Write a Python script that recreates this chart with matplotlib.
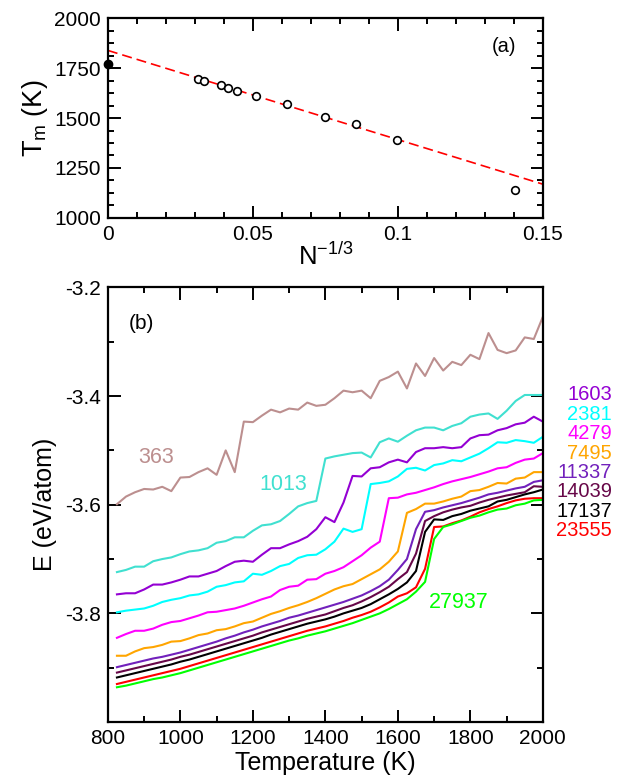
import numpy as np
import matplotlib
matplotlib.use("Agg")
import matplotlib.pyplot as plt
from matplotlib.ticker import MultipleLocator, FormatStrFormatter

plt.rcParams['font.family'] = ['Liberation Sans', 'DejaVu Sans']
plt.rcParams['mathtext.fontset'] = 'custom'
plt.rcParams['mathtext.rm'] = 'Liberation Sans'
plt.rcParams['mathtext.it'] = 'Liberation Sans'
plt.rcParams['axes.unicode_minus'] = False

# ---------------- panel (a) data ----------------
n_inv_third = [0.0312, 0.0332, 0.0389, 0.0415, 0.0446, 0.0512, 0.0617, 0.0750, 0.0855, 0.0996, 0.1403]
tm_values = [1693, 1686, 1663, 1650, 1633, 1610, 1572, 1507, 1468, 1388, 1139]
bulk_x = [0.0]
bulk_tm = [1769]
fit_x = [0.0, 0.15]
fit_tm = [1838, 1169]

# ---------------- panel (b) data ----------------
temps = list(range(825, 2001, 25))

e_363 = [-3.599, -3.585, -3.577, -3.571, -3.572, -3.567, -3.575, -3.550, -3.549, -3.540,
         -3.533, -3.545, -3.500, -3.540, -3.447, -3.448, -3.436, -3.425, -3.430, -3.423,
         -3.425, -3.412, -3.418, -3.416, -3.404, -3.390, -3.393, -3.390, -3.404, -3.372,
         -3.365, -3.355, -3.386, -3.340, -3.363, -3.330, -3.353, -3.337, -3.343, -3.324,
         -3.332, -3.284, -3.315, -3.321, -3.316, -3.292, -3.295, -3.254]
e_1013 = [-3.724, -3.720, -3.714, -3.714, -3.704, -3.700, -3.697, -3.691, -3.686, -3.684,
          -3.680, -3.670, -3.667, -3.660, -3.660, -3.648, -3.638, -3.636, -3.630, -3.617,
          -3.603, -3.597, -3.593, -3.515, -3.511, -3.508, -3.505, -3.504, -3.513, -3.485,
          -3.478, -3.484, -3.473, -3.463, -3.458, -3.458, -3.463, -3.455, -3.450, -3.438,
          -3.434, -3.432, -3.442, -3.427, -3.409, -3.398, -3.398, -3.398]
e_1603 = [-3.765, -3.763, -3.763, -3.756, -3.747, -3.747, -3.743, -3.738, -3.732, -3.732,
          -3.727, -3.722, -3.713, -3.705, -3.703, -3.705, -3.692, -3.680, -3.680, -3.673,
          -3.667, -3.659, -3.645, -3.623, -3.632, -3.596, -3.547, -3.548, -3.533, -3.531,
          -3.522, -3.517, -3.522, -3.503, -3.496, -3.496, -3.494, -3.496, -3.494, -3.478,
          -3.472, -3.471, -3.463, -3.459, -3.452, -3.449, -3.438, -3.447]
e_2381 = [-3.798, -3.795, -3.793, -3.791, -3.786, -3.779, -3.775, -3.772, -3.767, -3.765,
          -3.760, -3.751, -3.748, -3.743, -3.741, -3.727, -3.729, -3.722, -3.713, -3.709,
          -3.698, -3.693, -3.692, -3.682, -3.668, -3.644, -3.650, -3.645, -3.562, -3.560,
          -3.557, -3.548, -3.534, -3.532, -3.537, -3.527, -3.524, -3.518, -3.520, -3.513,
          -3.506, -3.496, -3.485, -3.486, -3.481, -3.483, -3.486, -3.475]
e_4279 = [-3.845, -3.838, -3.832, -3.832, -3.828, -3.821, -3.816, -3.814, -3.809, -3.804,
          -3.798, -3.797, -3.794, -3.791, -3.786, -3.780, -3.774, -3.769, -3.757, -3.751,
          -3.749, -3.738, -3.737, -3.727, -3.722, -3.715, -3.704, -3.693, -3.679, -3.668,
          -3.588, -3.587, -3.581, -3.578, -3.573, -3.568, -3.562, -3.557, -3.553, -3.549,
          -3.544, -3.539, -3.533, -3.531, -3.523, -3.517, -3.515, -3.505]
e_7495 = [-3.878, -3.878, -3.870, -3.864, -3.862, -3.858, -3.852, -3.851, -3.846, -3.840,
          -3.837, -3.831, -3.829, -3.824, -3.818, -3.815, -3.808, -3.801, -3.796, -3.790,
          -3.785, -3.779, -3.772, -3.764, -3.756, -3.750, -3.746, -3.737, -3.728, -3.719,
          -3.705, -3.686, -3.615, -3.608, -3.598, -3.598, -3.594, -3.589, -3.585, -3.575,
          -3.573, -3.567, -3.560, -3.561, -3.552, -3.550, -3.540, -3.540]
e_11337 = [-3.899, -3.895, -3.891, -3.887, -3.883, -3.880, -3.876, -3.872, -3.867, -3.862,
           -3.857, -3.852, -3.846, -3.841, -3.835, -3.830, -3.824, -3.819, -3.814, -3.808,
           -3.804, -3.799, -3.794, -3.789, -3.784, -3.779, -3.773, -3.767, -3.759, -3.750,
           -3.738, -3.720, -3.700, -3.645, -3.613, -3.610, -3.605, -3.601, -3.597, -3.592,
           -3.587, -3.581, -3.578, -3.574, -3.570, -3.567, -3.558, -3.555]
e_14039 = [-3.909, -3.905, -3.901, -3.897, -3.893, -3.889, -3.885, -3.880, -3.876, -3.871,
           -3.866, -3.861, -3.856, -3.851, -3.846, -3.841, -3.835, -3.830, -3.825, -3.820,
           -3.815, -3.810, -3.806, -3.802, -3.796, -3.790, -3.785, -3.778, -3.770, -3.761,
           -3.751, -3.737, -3.724, -3.690, -3.630, -3.621, -3.614, -3.609, -3.605, -3.602,
           -3.596, -3.591, -3.587, -3.583, -3.580, -3.577, -3.566, -3.567]
e_17137 = [-3.918, -3.914, -3.910, -3.906, -3.902, -3.898, -3.894, -3.889, -3.885, -3.880,
           -3.875, -3.870, -3.865, -3.860, -3.855, -3.850, -3.845, -3.839, -3.834, -3.829,
           -3.824, -3.819, -3.815, -3.811, -3.806, -3.800, -3.795, -3.790, -3.783, -3.774,
           -3.765, -3.755, -3.743, -3.722, -3.650, -3.627, -3.628, -3.621, -3.617, -3.611,
           -3.607, -3.603, -3.594, -3.591, -3.586, -3.581, -3.577, -3.572]
e_23555 = [-3.930, -3.926, -3.922, -3.918, -3.914, -3.910, -3.906, -3.902, -3.897, -3.892,
           -3.887, -3.882, -3.877, -3.872, -3.867, -3.862, -3.857, -3.852, -3.847, -3.842,
           -3.837, -3.832, -3.828, -3.824, -3.819, -3.814, -3.808, -3.803, -3.797, -3.789,
           -3.780, -3.769, -3.763, -3.752, -3.718, -3.641, -3.640, -3.634, -3.629, -3.622,
           -3.614, -3.608, -3.603, -3.597, -3.592, -3.589, -3.588, -3.588]
e_27937 = [-3.936, -3.933, -3.929, -3.925, -3.921, -3.918, -3.914, -3.910, -3.905, -3.900,
           -3.895, -3.890, -3.885, -3.880, -3.875, -3.870, -3.865, -3.860, -3.855, -3.850,
           -3.846, -3.841, -3.837, -3.833, -3.828, -3.823, -3.818, -3.812, -3.806, -3.800,
           -3.792, -3.783, -3.774, -3.760, -3.742, -3.663, -3.641, -3.636, -3.630, -3.624,
           -3.620, -3.614, -3.609, -3.607, -3.601, -3.598, -3.592, -3.591]

sizes = ['363', '1013', '1603', '2381', '4279', '7495', '11337', '14039', '17137', '23555', '27937']
series = [e_363, e_1013, e_1603, e_2381, e_4279, e_7495, e_11337, e_14039, e_17137, e_23555, e_27937]
colors = ['#BC8F8F', '#40E0D0', '#9400D3', '#00FFFF', '#FF00FF', '#FFA500',
          '#7221BC', '#670748', '#000000', '#FF0000', '#00FF00']

right_labels = ['1603', '2381', '4279', '7495', '11337', '14039', '17137', '23555']
right_label_y = [-3.398, -3.434, -3.469, -3.505, -3.541, -3.576, -3.612, -3.648]

fig = plt.figure(figsize=(6.2, 7.81), dpi=100)

def style(ax):
    for s in ax.spines.values():
        s.set_linewidth(1.6)
    ax.tick_params(which='both', direction='in', top=True, right=True, width=1.4, labelsize=15)
    ax.tick_params(which='major', length=9, pad=5)
    ax.tick_params(which='minor', length=4.5)

# ---- panel (a)
axa = fig.add_axes([0.174, 0.7209, 0.7016, 0.256])
axa.plot(fit_x, fit_tm, color='#FF0000', lw=1.2, dashes=(6, 3))
axa.plot(n_inv_third, tm_values, 'o', ms=5.5, mfc='white', mec='black', mew=1.2, zorder=3)
axa.plot(bulk_x, bulk_tm, 'o', ms=6, color='black', clip_on=False, zorder=4)
axa.set_xlim(0, 0.15)
axa.set_ylim(1000, 2000)
axa.xaxis.set_major_locator(MultipleLocator(0.05))
axa.xaxis.set_minor_locator(MultipleLocator(0.01))
axa.yaxis.set_major_locator(MultipleLocator(250))
axa.yaxis.set_minor_locator(MultipleLocator(62.5))
axa.xaxis.set_major_formatter(FormatStrFormatter('%g'))
style(axa)
axa.set_xlabel(r'N$^{-1/3}$', fontsize=18.5, labelpad=-1)
axa.set_ylabel(r'T$_{\rm m}$ (K)', fontsize=19.5, labelpad=3)
axa.text(0.1367, 1856, '(a)', fontsize=14.5, ha='center', va='center')

# ---- panel (b)
axb = fig.add_axes([0.174, 0.0755, 0.7016, 0.5565])
for name, e, c in zip(sizes, series, colors):
    axb.plot(temps, e, color=c, lw=1.5)
axb.set_xlim(800, 2000)
axb.set_ylim(-4.0, -3.2)
axb.xaxis.set_major_locator(MultipleLocator(200))
axb.xaxis.set_minor_locator(MultipleLocator(100))
axb.set_yticks([-3.8, -3.6, -3.4, -3.2])
axb.yaxis.set_minor_locator(MultipleLocator(0.1))
axb.yaxis.set_major_formatter(FormatStrFormatter('%.1f'))
style(axb)
axb.set_xlabel('Temperature (K)', fontsize=18, labelpad=2)
axb.set_ylabel('E (eV/atom)', fontsize=18, labelpad=6)
axb.text(893, -3.267, '(b)', fontsize=15, ha='center', va='center')
axb.text(932, -3.514, '363', fontsize=15.5, color=colors[0], ha='center', va='center')
axb.text(1283, -3.562, '1013', fontsize=15.5, color=colors[1], ha='center', va='center')
axb.text(1768, -3.780, '27937', fontsize=15.5, color=colors[10], ha='center', va='center')
for lab, y in zip(right_labels, right_label_y):
    c = colors[sizes.index(lab)]
    axb.text(1.159, y, lab, transform=axb.get_yaxis_transform(), fontsize=14.5, color=c,
             ha='right', va='center', clip_on=False)

fig.savefig('out.png', dpi=100)
